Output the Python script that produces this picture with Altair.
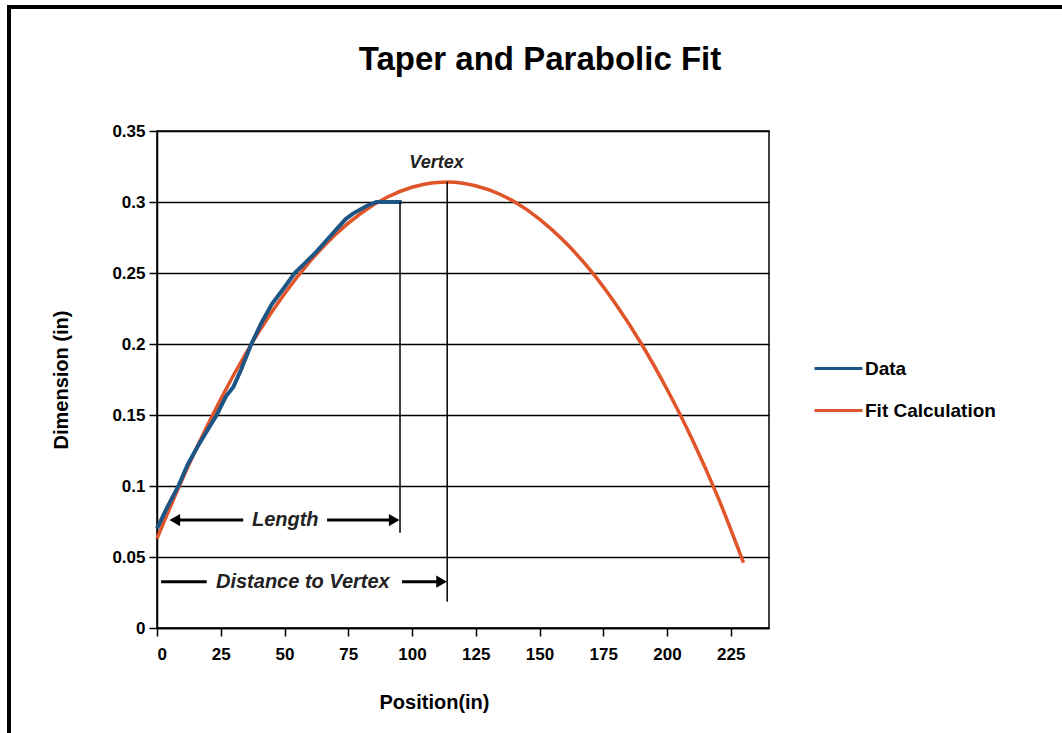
import altair as alt
import pandas as pd

# ---- data ----
data_x = [0, 4, 8.4, 12, 16, 20, 23.4, 27, 30, 33, 37, 41, 45, 50, 54, 58, 62, 66, 70, 74, 77, 82, 86, 96]
data_y = [0.070, 0.085, 0.100, 0.115, 0.128, 0.140, 0.150, 0.163, 0.170, 0.182, 0.200, 0.215, 0.228,
          0.240, 0.250, 0.257, 0.264, 0.272, 0.280, 0.288, 0.292, 0.297, 0.300, 0.300]

fit_x = [0, 10, 20, 30, 40, 50, 60, 70, 80, 90, 100, 110, 114, 120, 130, 140, 150, 160, 170, 180,
         190, 200, 210, 220, 230]
fit_y = [0.063, 0.105, 0.1435, 0.178, 0.2087, 0.2354, 0.2582, 0.2771, 0.2921, 0.3032, 0.3104, 0.3138,
         0.314, 0.3132, 0.3087, 0.3003, 0.288, 0.2718, 0.2518, 0.2278, 0.200, 0.1681, 0.1324, 0.0920,
         0.046]

series_names = ["Data", "Fit Calculation"]
series_colors = ["#1d5585", "#e0542a"]

x_ticks = [0, 25, 50, 75, 100, 125, 150, 175, 200, 225]
y_ticks = [0, 0.05, 0.1, 0.15, 0.2, 0.25, 0.3, 0.35]

chart_title = ["Taper and Parabolic Fit"]

# annotation guide lines: (x, y_top, y_bottom)
guide_x = [95.3, 113.8]
guide_top = [0.300, 0.314]
guide_bottom = [0.067, 0.0185]

# arrow shafts: (x_start, x_end, y)
shaft_x1 = [8, 66.7, 1.6, 96.1]
shaft_x2 = [33.8, 92.5, 19.5, 111.0]
shaft_y = [0.076, 0.076, 0.0326, 0.0326]

# arrow heads
head_x = [7.0, 93.0, 111.6]
head_y = [0.076, 0.076, 0.0326]
head_shape = ["triangle-left", "triangle-right", "triangle-right"]

# labels
label_text = ["Length", "Distance to Vertex"]
label_x = [50.3, 57.2]
label_y = [0.076, 0.0326]
vertex_text = ["Vertex"]
vertex_x = [109.6]
vertex_y = [0.3275]

W, H = 612, 497
PAD = {"left": 157, "top": 131, "right": 293, "bottom": 105}
FONT = "Liberation Sans"

df_data = pd.DataFrame({"x": data_x, "y": data_y, "series": "Data"})
df_fit = pd.DataFrame({"x": fit_x, "y": fit_y, "series": "Fit Calculation"})
df_guides = pd.DataFrame({"x": guide_x, "y": guide_top, "y2": guide_bottom})
df_shafts = pd.DataFrame({"x": shaft_x1, "x2": shaft_x2, "y": shaft_y})
df_heads = pd.DataFrame({"x": head_x, "y": head_y, "shape": head_shape})
df_labels = pd.DataFrame({"x": label_x, "y": label_y, "text": label_text})
df_vertex = pd.DataFrame({"x": vertex_x, "y": vertex_y, "text": vertex_text})
df_title = pd.DataFrame({"t": chart_title})

xscale = alt.Scale(domain=[0, 240], nice=False, zero=False)
yscale = alt.Scale(domain=[0, 0.35], nice=False)
cscale = alt.Scale(domain=series_names, range=series_colors)

xenc = alt.X("x:Q", scale=xscale,
             axis=alt.Axis(values=x_ticks, title="Position(in)", grid=False, format="d",
                           titleX=277, titleY=64, labelPadding=10))
yenc = alt.Y("y:Q", scale=yscale,
             axis=alt.Axis(values=y_ticks, title="Dimension (in)", format="~g", grid=True,
                           titlePadding=40, labelPadding=4))

fit_line = alt.Chart(df_fit).mark_line(strokeWidth=3.5, interpolate="monotone").encode(
    x=xenc, y=yenc,
    color=alt.Color("series:N", scale=cscale,
                    legend=alt.Legend(title=None, orient="none", legendX=656, legendY=212,
                                      symbolType="stroke", symbolSize=2300, symbolStrokeWidth=3,
                                      labelFont=FONT, labelFontSize=19, labelFontWeight="bold",
                                      labelColor="black", rowPadding=6, labelOffset=1)),
)
data_line = alt.Chart(df_data).mark_line(strokeWidth=4).encode(
    x="x:Q", y="y:Q", color=alt.Color("series:N", scale=cscale)
)

guides = alt.Chart(df_guides).mark_rule(color="black", strokeWidth=1.5).encode(
    x="x:Q", y="y:Q", y2="y2:Q"
)
shafts = alt.Chart(df_shafts).mark_rule(color="black", strokeWidth=3).encode(
    x="x:Q", x2="x2:Q", y="y:Q"
)
heads = alt.Chart(df_heads).mark_point(filled=True, color="black", opacity=1, size=150).encode(
    x="x:Q", y="y:Q",
    shape=alt.Shape("shape:N", scale=None, legend=None),
)
labels = alt.Chart(df_labels).mark_text(font=FONT, fontSize=20, fontStyle="italic",
                                        fontWeight="bold", color="#222222").encode(
    x="x:Q", y="y:Q", text="text:N"
)
vertex_label = alt.Chart(df_vertex).mark_text(font=FONT, fontSize=18, fontStyle="italic",
                                              fontWeight="bold", color="#222222").encode(
    x="x:Q", y="y:Q", text="text:N"
)

title_mark = alt.Chart(df_title).mark_text(font=FONT, fontSize=33, fontWeight="bold",
                                           color="black", align="center", baseline="middle",
                                           clip=False).encode(
    x=alt.value(383), y=alt.value(-71), text="t:N"
)

frame = alt.Chart(df_title).mark_rect(fill="transparent", stroke="black", strokeWidth=4,
                                      clip=False).encode(
    x=alt.value(-148), y=alt.value(-124),
    x2=alt.value(W + PAD["right"] + 20), y2=alt.value(H + PAD["bottom"] + 20),
)

chart = alt.layer(fit_line, data_line, guides, shafts, heads, labels, vertex_label,
                  title_mark, frame).properties(
    width=W, height=H,
    padding=PAD,
    autosize=alt.AutoSizeParams(type="none"),
).configure(background="white").configure_view(stroke="black", strokeWidth=1.5).configure_axis(
    labelFont=FONT, labelFontSize=17, labelFontWeight="bold", labelColor="black",
    titleFont=FONT, titleFontSize=20, titleFontWeight="bold", titleColor="black",
    domainColor="black", domainWidth=1.5, tickColor="black", tickWidth=1.5, tickSize=8,
    gridColor="black", gridWidth=1.5, gridOpacity=1,
)

chart.save("out.html", embed_options={"renderer": "svg", "actions": False})
